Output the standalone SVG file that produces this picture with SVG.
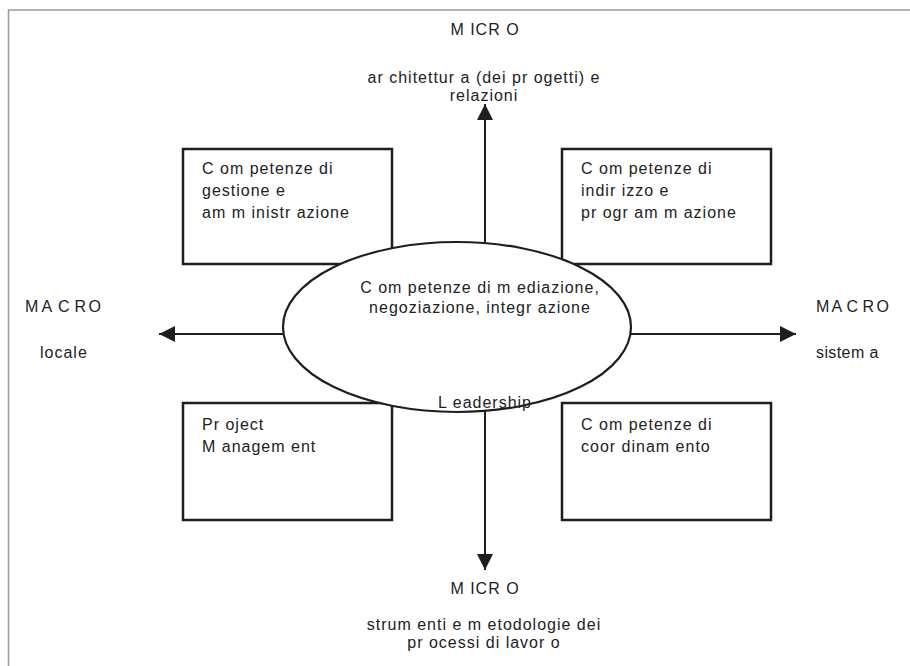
<svg xmlns="http://www.w3.org/2000/svg" width="910" height="666" viewBox="0 0 910 666">
  <style>
    .frame { fill: none; stroke: #9a9a9a; stroke-width: 1.5; }
    .box { fill: #fff; stroke: #1e1e1e; stroke-width: 2.5; }
    .core { fill: #fff; stroke: #1e1e1e; stroke-width: 2.2; }
    .axis { fill: none; stroke: #1e1e1e; stroke-width: 2; marker-end: url(#head); }
    text { font-family: "Liberation Sans", Arial, sans-serif; font-size: 16px; fill: #222; letter-spacing: 1px; }
    .mid { text-anchor: middle; }
    .wide { letter-spacing: 0; font-size: 16px; }
  </style>
  <defs>
    <marker id="head" viewBox="0 0 16 16" refX="16" refY="8" markerWidth="16" markerHeight="16" markerUnits="userSpaceOnUse" orient="auto">
      <path d="M0,0 L16,8 L0,16 Z" fill="#1e1e1e"/>
    </marker>
  </defs>

  <!-- page frame -->
  <path class="frame" d="M8.5,666 V10 H910"/>

  <!-- axes -->
  <g id="connectors">
    <line class="axis" x1="485" y1="245" x2="485" y2="104"/>
    <line class="axis" x1="485" y1="410" x2="485" y2="570"/>
    <line class="axis" x1="285" y1="334" x2="159" y2="334"/>
    <line class="axis" x1="629" y1="334" x2="796" y2="334"/>
  </g>

  <!-- axis labels -->
  <g id="axis-top">
    <text class="mid" x="485" y="35">M ICR O</text>
    <text class="mid" x="484" y="83">ar chitettur a (dei pr ogetti) e</text>
    <text class="mid" x="484" y="101">relazioni</text>
  </g>
  <g id="axis-bottom">
    <text class="mid" x="485" y="594">M ICR O</text>
    <text class="mid" x="484" y="630">strum enti e m etodologie dei</text>
    <text class="mid" x="484" y="648">pr ocessi di lavor o</text>
  </g>
  <g id="axis-left">
    <text class="wide" x="25 38 41.5 54 58 71 74.5 86 88.5" y="312">M A C R O</text>
    <text x="40" y="358">locale</text>
  </g>
  <g id="axis-right">
    <text class="wide" x="816 829 831.5 844 846.5 860 862.5 873 876.5" y="312">M A C R O</text>
    <text x="816" y="358" style="letter-spacing:0.4px">sistem a</text>
  </g>

  <!-- quadrant boxes -->
  <g id="box-gestione">
    <rect class="box" x="183" y="149" width="209" height="115"/>
    <text x="202" y="174">C om petenze di</text>
    <text x="202" y="196">gestione e</text>
    <text x="202" y="218">am m inistr azione</text>
  </g>
  <g id="box-indirizzo">
    <rect class="box" x="562" y="149" width="209" height="115"/>
    <text x="581" y="174">C om petenze di</text>
    <text x="581" y="196">indir izzo e</text>
    <text x="581" y="218">pr ogr am m azione</text>
  </g>
  <g id="box-project">
    <rect class="box" x="183" y="403" width="209" height="117"/>
    <text x="202" y="430">Pr oject</text>
    <text x="202" y="452">M anagem ent</text>
  </g>
  <g id="box-coordinamento">
    <rect class="box" x="562" y="403" width="209" height="117"/>
    <text x="581" y="430">C om petenze di</text>
    <text x="581" y="452">coor dinam ento</text>
  </g>

  <!-- central ellipse -->
  <g id="core">
    <ellipse class="core" cx="457" cy="327" rx="174" ry="85"/>
    <text class="mid" x="480" y="293">C om petenze di m ediazione,</text>
    <text class="mid" x="480" y="313">negoziazione, integr azione</text>
    <text class="mid" x="485" y="408">L eadership</text>
  </g>
</svg>
